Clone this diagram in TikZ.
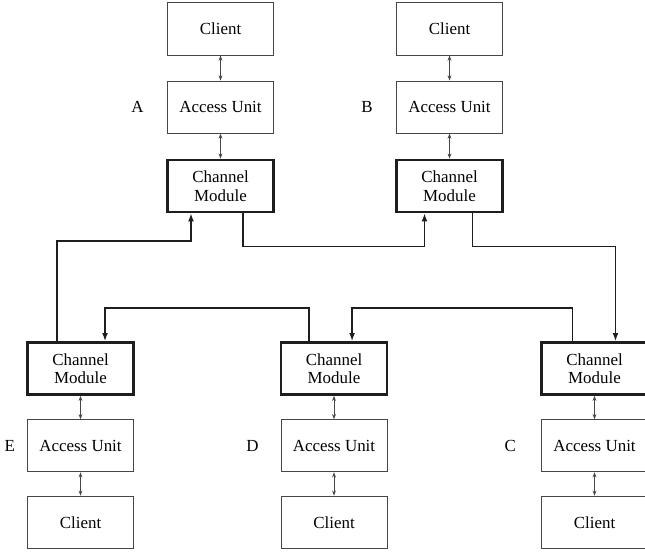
\documentclass[tikz,border=0pt]{standalone}
\usepackage{fontspec}
\setmainfont{Liberation Serif}
\usepackage{xcolor}
\usepackage{tikz}
\usetikzlibrary{arrows.meta,positioning,calc}
\definecolor{boxgray}{RGB}{70, 70, 70}
\definecolor{linkblack}{RGB}{30, 30, 30}

\begin{document}
\begin{tikzpicture}[
    x=0.62pt, y=-0.62pt,
    unit/.style={draw=boxgray, line width=0.5pt, minimum height=32.4pt, minimum width=65.8pt, align=center, font=\fontsize{10.5}{11.5}\selectfont, inner sep=1pt},
    chan/.style={unit, draw=linkblack, line width=1.5pt},
    tag/.style={font=\fontsize{10.5}{12}\selectfont},
    link/.style={draw=linkblack, line width=0.9pt},
    arr/.style={link, -{Latex[length=5pt,width=3.6pt]}},
    dbl/.style={draw=boxgray, line width=0.5pt, {Stealth[length=3.2pt,width=2.4pt]}-{Stealth[length=3.2pt,width=2.4pt]}}
]
    \useasboundingbox (0,0) rectangle (645,551);

    % Site A
    \node[unit] (clA) at (220.5,29) {Client};
    \node[unit, below=15.5pt of clA] (auA) {Access Unit};
    \node[chan, below=15.5pt of auA] (chA) {Channel\\Module};
    \node[tag, left=11pt of auA] (tagA) {A};

    % Site B
    \node[unit] (clB) at (449.5,29) {Client};
    \node[unit, below=15.5pt of clB] (auB) {Access Unit};
    \node[chan, below=15.5pt of auB] (chB) {Channel\\Module};
    \node[tag, left=11pt of auB] (tagB) {B};

    % Site E
    \node[chan] (chE) at (80.5,368.5) {Channel\\Module};
    \node[unit, below=14.5pt of chE] (auE) {Access Unit};
    \node[unit, below=14.5pt of auE] (clE) {Client};
    \node[tag, left=4pt of auE] (tagE) {E};

    % Site D
    \node[chan] (chD) at (334,368.5) {Channel\\Module};
    \node[unit, below=14.5pt of chD] (auD) {Access Unit};
    \node[unit, below=14.5pt of auD] (clD) {Client};
    \node[tag, left=10pt of auD] (tagD) {D};

    % Site C
    \node[chan] (chC) at (594.5,368.5) {Channel\\Module};
    \node[unit, below=14.5pt of chC] (auC) {Access Unit};
    \node[unit, below=14.5pt of auC] (clC) {Client};
    \node[tag, left=12pt of auC] (tagC) {C};

    % local links
    \foreach \s in {A,B,C,D,E} {
        \draw[dbl] (cl\s) -- (au\s);
    }
    \draw[dbl] (auA) -- (chA);
    \draw[dbl] (auB) -- (chB);
    \draw[dbl] (chC) -- (auC);
    \draw[dbl] (chD) -- (auD);
    \draw[dbl] (chE) -- (auE);

    % Ring
    \draw[arr] ([xshift=-14.6pt]chE.north) -- ++(0,-100) -| ([xshift=-18.3pt]chA.south);
    \draw[arr] ([xshift=14pt]chA.south) -- ++(0,33) -| ([xshift=-15.5pt]chB.south);
    \draw[arr] ([xshift=14.3pt]chB.south) -- ++(0,33) -| ([xshift=13pt]chC.north);
    \draw[arr] ([xshift=-13.6pt]chC.north) -- ++(0,-33) -| ([xshift=11.2pt]chD.north);
    \draw[arr] ([xshift=-15.5pt]chD.north) -- ++(0,-33) -| ([xshift=15.2pt]chE.north);
\end{tikzpicture}
\end{document}
